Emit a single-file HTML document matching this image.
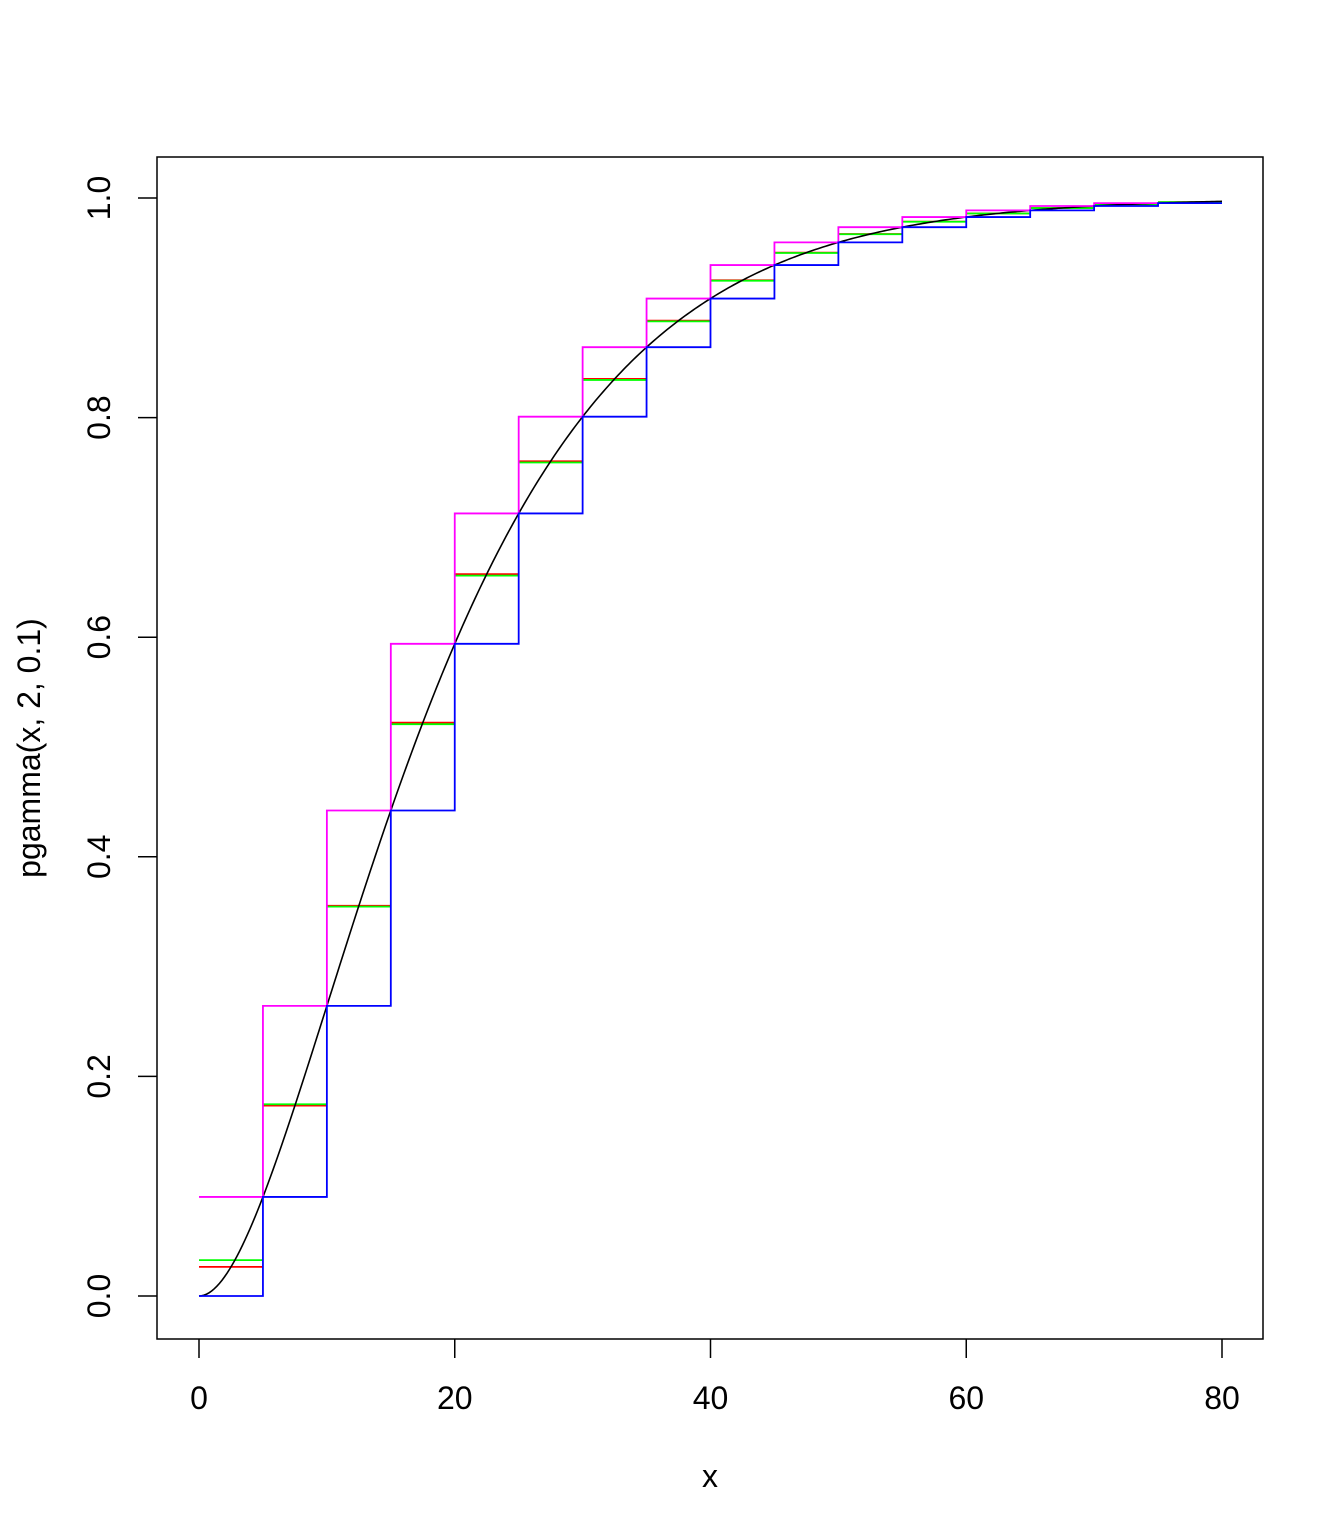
<!DOCTYPE html>
<html><head><meta charset="utf-8"><style>
html,body{margin:0;padding:0;background:#fff;}
svg{display:block;font-family:"Liberation Sans",Arial,sans-serif;}
</style></head><body>
<svg id="s" width="1344" height="1536" viewBox="0 0 1344 1536" xmlns="http://www.w3.org/2000/svg">
<g id="g" fill="none" stroke-width="1.8"></g>
<rect x="157" y="157" width="1106" height="1182" fill="none" stroke="#000" stroke-width="1.5"/>
<g stroke="#000" stroke-width="1.5">
<line x1="199" y1="1339" x2="199" y2="1358"/>
<line x1="454.75" y1="1339" x2="454.75" y2="1358"/>
<line x1="710.5" y1="1339" x2="710.5" y2="1358"/>
<line x1="966.25" y1="1339" x2="966.25" y2="1358"/>
<line x1="1222" y1="1339" x2="1222" y2="1358"/>
<line x1="157" y1="1296" x2="138" y2="1296"/>
<line x1="157" y1="1076.4" x2="138" y2="1076.4"/>
<line x1="157" y1="856.8" x2="138" y2="856.8"/>
<line x1="157" y1="637.2" x2="138" y2="637.2"/>
<line x1="157" y1="417.6" x2="138" y2="417.6"/>
<line x1="157" y1="198" x2="138" y2="198"/>
</g>
<g font-size="32" text-anchor="middle" fill="#000">
<text x="199" y="1409">0</text><text x="454.75" y="1409">20</text><text x="710.5" y="1409">40</text><text x="966.25" y="1409">60</text><text x="1222" y="1409">80</text>
<text x="710" y="1487">x</text>
<text transform="translate(110,1296) rotate(-90)">0.0</text>
<text transform="translate(110,1076.4) rotate(-90)">0.2</text>
<text transform="translate(110,856.8) rotate(-90)">0.4</text>
<text transform="translate(110,637.2) rotate(-90)">0.6</text>
<text transform="translate(110,417.6) rotate(-90)">0.8</text>
<text transform="translate(110,198) rotate(-90)">1.0</text>
<text transform="translate(40,748) rotate(-90)">pgamma(x, 2, 0.1)</text>
</g>
</svg>
<script>
function F(x){return 1-Math.exp(-0.1*x)*(1+0.1*x);}
function avg(a,b){function I(x){return x+10*Math.exp(-0.1*x)*(2+0.1*x);}return (I(b)-I(a))/(b-a);}
function X(x){return 199+x*1023/80;}function Y(y){return 1296-y*1098;}
var g=document.getElementById('g');var ns="http://www.w3.org/2000/svg";
function add(d,col,w){var p=document.createElementNS(ns,"path");p.setAttribute("d",d);p.setAttribute("stroke",col);if(w)p.setAttribute("stroke-width",w);g.appendChild(p);}
function step(fn,col,n){var d="";for(var i=0;i<n;i++){var a=i*5,b=a+5,v=fn(a,b);d+=(i==0?"M":"L")+X(a)+","+Y(v)+"L"+X(b)+","+Y(v);}add(d,col);}
function segs(fn,col,n){var d="";for(var i=0;i<n;i++){var a=i*5,b=a+5,v=fn(a,b);d+="M"+X(a)+","+Y(v)+"L"+X(b)+","+Y(v);}add(d,col);}
segs(function(a,b){return F((a+b)/2);},"#ff0000",16);
segs(function(a,b){return avg(a,b);},"#00ff00",16);
var d="";for(var i=0;i<=400;i++){var x=i*0.2;d+=(i?"L":"M")+X(x).toFixed(2)+","+Y(F(x)).toFixed(2);}
add(d,"#000","1.6");
step(function(a,b){return F(b);},"#ff00ff",15);
step(function(a,b){return F(a);},"#0000ff",16);
</script>
</body></html>
